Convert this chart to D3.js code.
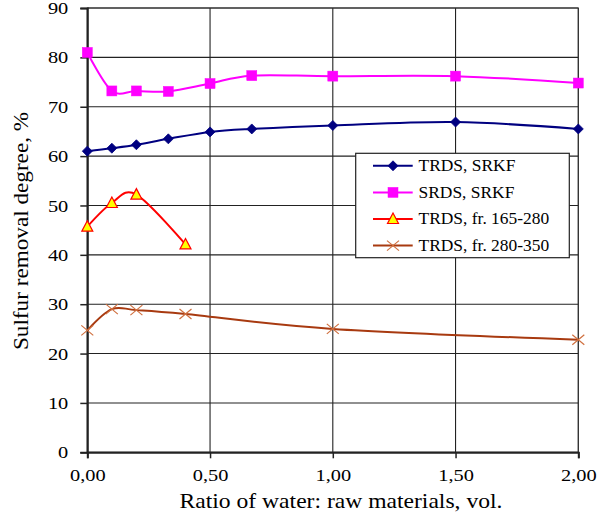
<!DOCTYPE html>
<html><head><meta charset="utf-8"><script src="https://cdn.jsdelivr.net/npm/d3@7"></script></head>
<body style="margin:0">
<svg id="chart" width="598" height="513"></svg>
<script>
// ---- data ----
const xTicks = [0, 0.5, 1.0, 1.5, 2.0];
const xTickLabels = ["0,00", "0,50", "1,00", "1,50", "2,00"];
const yTicks = [0, 10, 20, 30, 40, 50, 60, 70, 80, 90];

const xSRKF = [0, 0.1, 0.2, 0.33, 0.5, 0.67, 1.0, 1.5, 2.0];
const trdsSRKF = [61.0, 61.6, 62.3, 63.5, 64.9, 65.5, 66.2, 66.9, 65.5];
const srdsSRKF = [81.0, 73.2, 73.2, 73.1, 74.7, 76.3, 76.2, 76.2, 74.8];
const x165 = [0, 0.1, 0.2, 0.4];
const trds165 = [45.7, 50.5, 52.2, 42.1];
const x280 = [0, 0.1, 0.2, 0.4, 1.0, 2.0];
const trds280 = [24.7, 29.0, 28.8, 28.0, 25.0, 22.8];

const seriesNames = ["TRDS, SRKF", "SRDS, SRKF", "TRDS, fr. 165-280", "TRDS, fr. 280-350"];

const FONT = "Liberation Serif";

// ---- layout ----
const svg = d3.select("#chart");
const L = 87.3, R = 578.3, T = 8, B = 452.3;
const x = d3.scaleLinear().domain([0, 2]).range([L, R]);
const y = d3.scaleLinear().domain([0, 90]).range([B, T]);

function stretch(sel, sx) {
  sel.each(function() {
    const t = d3.select(this);
    const ax = +t.attr("x"), ay = +t.attr("y");
    t.attr("transform", `translate(${ax},${ay}) scale(${sx},1) translate(${-ax},${-ay})`);
  });
}

svg.append("rect").attr("x", L).attr("y", T).attr("width", R - L).attr("height", B - T)
  .attr("fill", "#fff");

// grid
const grid = svg.append("g").attr("stroke", "#222").attr("stroke-width", 1.1);
grid.selectAll(".hg").data(yTicks).join("line")
  .attr("x1", L).attr("x2", R).attr("y1", d => y(d)).attr("y2", d => y(d));
grid.selectAll(".vg").data(xTicks).join("line")
  .attr("y1", T).attr("y2", B).attr("x1", d => x(d)).attr("x2", d => x(d));
svg.append("rect").attr("x", L).attr("y", T).attr("width", R - L).attr("height", B - T)
  .attr("fill", "none").attr("stroke", "#333").attr("stroke-width", 1);

// axes
const yAxis = d3.axisLeft(y).tickValues(yTicks).tickSize(7).tickPadding(12);
const gy = svg.append("g").attr("transform", `translate(${L},0)`).call(yAxis);
gy.attr("font-family", FONT);
gy.select(".domain").attr("stroke", "#222").attr("stroke-width", 2);
gy.selectAll(".tick line").attr("stroke", "#222").attr("stroke-width", 1.5);
gy.selectAll(".tick text")
  .style("font-family", FONT).style("font-size", "17px")
  .attr("x", -19).attr("dy", "0.33em").attr("fill", "#000")
  .attr("transform", "translate(-19,0) scale(1.2,1) translate(19,0)");

const xAxis = d3.axisBottom(x).tickValues(xTicks).tickFormat((d, i) => xTickLabels[i]).tickSize(6).tickPadding(8);
const gx = svg.append("g").attr("transform", `translate(0,${B})`).call(xAxis);
gx.attr("font-family", FONT);
gx.select(".domain").attr("stroke", "#222").attr("stroke-width", 2);
gx.selectAll(".tick line").attr("stroke", "#222").attr("stroke-width", 1.5);
gx.selectAll(".tick text")
  .style("font-family", FONT).style("font-size", "17px")
  .attr("y", 17).attr("dy", "0.71em").attr("fill", "#000")
  .attr("transform", "scale(1.2,1)");

// axis titles
svg.append("text").attr("x", 341).attr("y", 508).attr("text-anchor", "middle")
  .style("font-family", FONT).style("font-size", "20px").attr("fill", "#000")
  .text("Ratio of water: raw materials, vol.")
  .call(stretch, 1.18);
svg.append("text").attr("text-anchor", "middle")
  .style("font-family", FONT).style("font-size", "20px").attr("fill", "#000")
  .attr("transform", "translate(28,231) rotate(-90) scale(1.16,1)")
  .text("Sulfur removal degree, %");

// series
const curve = d3.curveCatmullRom.alpha(0);
const line = d3.line().x(d => x(d[0])).y(d => y(d[1])).curve(curve);
const zip = (xs, ys) => xs.map((v, i) => [v, ys[i]]);

const series = [
  { name: seriesNames[0], pts: zip(xSRKF, trdsSRKF), color: "#000080", marker: "diamond", fill: "#000080", mstroke: "#000080" },
  { name: seriesNames[1], pts: zip(xSRKF, srdsSRKF), color: "#FF00FF", marker: "square", fill: "#FF00FF", mstroke: "#FF00FF" },
  { name: seriesNames[2], pts: zip(x165, trds165), color: "#FF0000", marker: "triangle", fill: "#FFFF00", mstroke: "#FF0000" },
  { name: seriesNames[3], pts: zip(x280, trds280), color: "#A83A10", marker: "x", fill: "none", mstroke: "#D0703F" }
];

function drawMarker(g, type, cx, cy, s) {
  if (type === "diamond") {
    g.append("path").attr("d", `M${cx},${cy - 5}L${cx + 5},${cy}L${cx},${cy + 5}L${cx - 5},${cy}Z`)
      .attr("fill", s.fill).attr("stroke", s.mstroke).attr("stroke-width", 0.8);
  } else if (type === "square") {
    g.append("rect").attr("x", cx - 5).attr("y", cy - 5).attr("width", 10).attr("height", 10)
      .attr("fill", s.fill).attr("stroke", s.mstroke).attr("stroke-width", 0.5);
  } else if (type === "triangle") {
    g.append("path").attr("d", `M${cx},${cy - 6}L${cx + 5.5},${cy + 4.5}L${cx - 5.5},${cy + 4.5}Z`)
      .attr("fill", s.fill).attr("stroke", s.mstroke).attr("stroke-width", 1.2);
  } else if (type === "x") {
    g.append("path").attr("d", `M${cx - 6},${cy - 5}L${cx + 6},${cy + 5}M${cx - 6},${cy + 5}L${cx + 6},${cy - 5}`)
      .attr("stroke", s.mstroke).attr("stroke-width", 1.2).attr("fill", "none");
  }
}

const sg = svg.append("g");
series.forEach(s => {
  sg.append("path").attr("d", line(s.pts)).attr("fill", "none")
    .attr("stroke", s.color).attr("stroke-width", 2);
});
series.forEach(s => {
  const g = sg.append("g");
  s.pts.forEach(p => drawMarker(g, s.marker, x(p[0]), y(p[1]), s));
});

// legend
const lg = svg.append("g");
lg.append("rect").attr("x", 355.7).attr("y", 153.3).attr("width", 213.6).attr("height", 104.4)
  .attr("fill", "#fff").attr("stroke", "#222").attr("stroke-width", 1.2);
series.forEach((s, i) => {
  const cy = 165.8 + i * 26.6;
  lg.append("line").attr("x1", 373).attr("x2", 412.7).attr("y1", cy).attr("y2", cy)
    .attr("stroke", s.color).attr("stroke-width", 2);
  drawMarker(lg, s.marker, 393, cy, s);
  lg.append("text").attr("x", 418.5).attr("y", cy + 5.5)
    .style("font-family", FONT).style("font-size", "16px").attr("fill", "#000")
    .text(s.name).call(stretch, 1.09);
});
</script>
</body>
</html>
